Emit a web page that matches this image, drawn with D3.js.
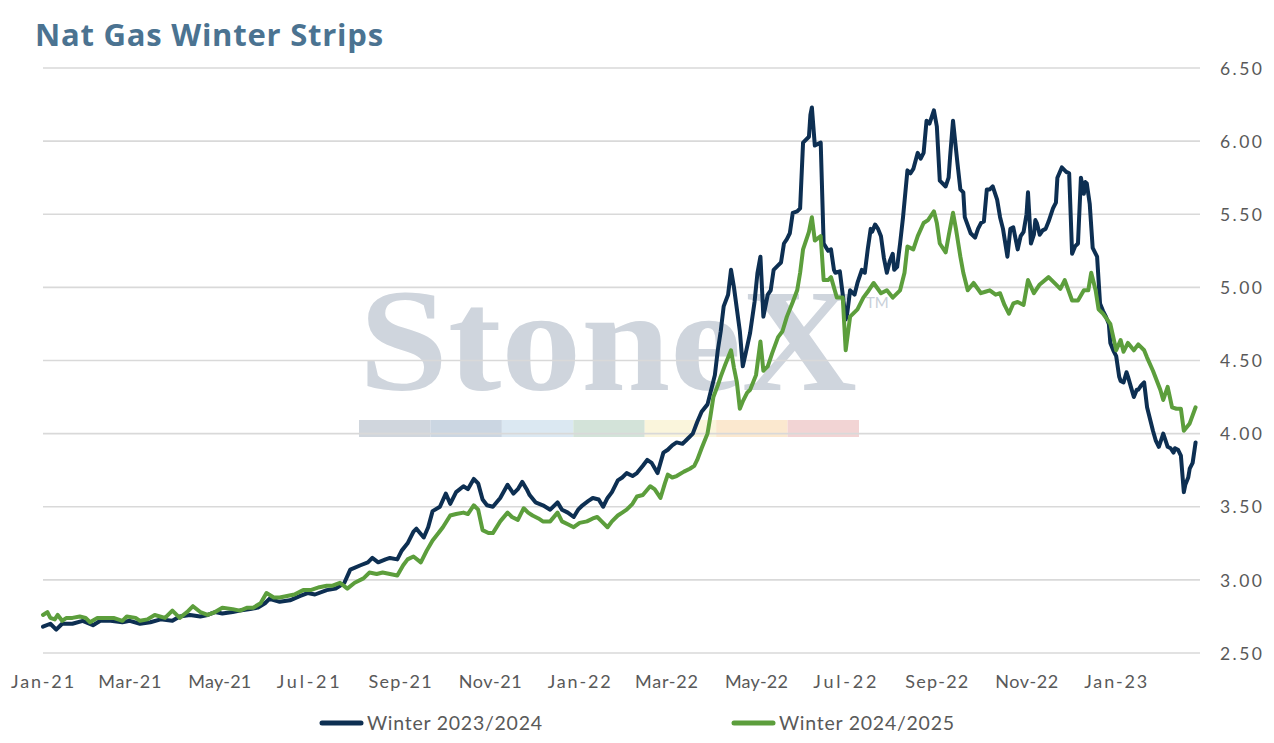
<!DOCTYPE html>
<html>
<head>
<meta charset="utf-8">
<script src="https://cdn.jsdelivr.net/npm/d3@7/dist/d3.min.js"></script>
<style>
  html, body { margin: 0; padding: 0; background: #ffffff; }
  svg { display: block; }
</style>
</head>
<body>
<svg id="chart" width="1274" height="743"></svg>
<script>
// ---------------- DATA ----------------
const chartTitle = "Nat Gas Winter Strips";
const seriesNames = ["Winter 2023/2024", "Winter 2024/2025"];
const startDate = new Date(2021, 0, 1);
const endDate = new Date(2023, 1, 27);
const yTicks = [2.5, 3.0, 3.5, 4.0, 4.5, 5.0, 5.5, 6.0, 6.5];

// [days since 1 Jan 2021, $/MMBtu]
const winter2324 = [
[0,2.68],[5,2.70],[9,2.66],[13,2.70],[20,2.70],[27,2.72],[34,2.69],[39,2.72],[46,2.72],[54,2.71],
[59,2.72],[66,2.70],[73,2.71],[80,2.73],[88,2.72],[93,2.75],[100,2.76],[107,2.75],[112,2.76],[117,2.78],
[122,2.77],[129,2.78],[134,2.79],[141,2.80],[146,2.81],[151,2.84],[154,2.87],[161,2.85],[168,2.86],[175,2.89],
[180,2.91],[185,2.90],[193,2.93],[199,2.94],[202,2.96],[205,2.98],[209,3.07],[216,3.10],[221,3.12],[224,3.15],
[228,3.12],[233,3.14],[236,3.15],[241,3.14],[244,3.20],[248,3.25],[252,3.33],[254,3.35],[259,3.29],[262,3.36],
[265,3.47],[270,3.50],[274,3.59],[277,3.52],[281,3.60],[286,3.64],[289,3.62],[293,3.69],[296,3.66],[299,3.55],
[302,3.51],[306,3.50],[311,3.56],[316,3.65],[320,3.59],[323,3.62],[326,3.67],[329,3.62],[331,3.58],[335,3.53],
[340,3.51],[345,3.48],[350,3.53],[353,3.48],[357,3.46],[361,3.43],[364,3.48],[367,3.51],[371,3.54],[374,3.56],
[378,3.55],[381,3.50],[384,3.56],[387,3.60],[391,3.68],[394,3.70],[397,3.73],[401,3.71],[404,3.73],[408,3.78],
[411,3.82],[414,3.80],[418,3.73],[422,3.87],[425,3.89],[428,3.92],[431,3.94],[435,3.93],[438,3.96],[442,4.00],
[445,4.08],[448,4.15],[452,4.20],[454,4.28],[457,4.40],[459,4.57],[461,4.70],[463,4.87],[466,4.95],[468,5.12],
[470,5.00],[472,4.85],[474,4.70],[476,4.46],[478,4.55],[481,4.69],[484,4.90],[486,5.10],[488,5.21],[490,4.80],
[493,4.95],[495,4.98],[497,5.12],[500,5.15],[502,5.17],[504,5.30],[506,5.33],[508,5.37],[510,5.51],[513,5.52],
[515,5.54],[517,5.99],[521,6.03],[522,6.18],[523,6.23],[525,5.97],[529,5.99],[531,5.30],[534,5.25],[536,5.26],
[538,5.12],[539,5.10],[542,5.11],[544,4.95],[546,4.78],[547,4.82],[549,4.98],[552,4.95],[554,5.03],[557,5.12],
[559,5.10],[561,5.26],[563,5.40],[564,5.38],[566,5.43],[568,5.40],[570,5.35],[572,5.20],[574,5.10],[576,5.18],
[578,5.23],[579,5.12],[581,5.14],[583,5.30],[585,5.48],[588,5.80],[590,5.78],[592,5.81],[595,5.92],[597,5.88],
[599,5.92],[601,6.14],[603,6.12],[606,6.21],[608,6.10],[610,5.73],[614,5.69],[616,5.75],[617,5.89],[619,6.14],
[622,5.85],[624,5.67],[626,5.65],[627,5.48],[631,5.37],[634,5.34],[636,5.40],[638,5.44],[640,5.45],[642,5.67],
[644,5.67],[646,5.69],[649,5.60],[651,5.48],[653,5.40],[656,5.21],[658,5.40],[660,5.41],[663,5.26],[665,5.35],
[667,5.38],[669,5.50],[670,5.65],[672,5.30],[674,5.36],[675,5.46],[676,5.44],[678,5.36],[680,5.39],[682,5.40],
[684,5.45],[687,5.54],[689,5.58],[690,5.75],[693,5.82],[696,5.79],[698,5.78],[700,5.23],[702,5.28],[704,5.30],
[706,5.75],[708,5.64],[709,5.72],[710,5.71],[712,5.57],[714,5.27],[717,5.21],[719,4.89],[721,4.84],[723,4.80],
[725,4.75],[726,4.62],[728,4.57],[730,4.53],[732,4.39],[733,4.36],[735,4.35],[737,4.42],[738,4.39],[740,4.32],
[742,4.25],[744,4.30],[745,4.30],[747,4.33],[749,4.35],[751,4.18],[753,4.10],[755,4.02],[757,3.95],[759,3.91],
[761,3.97],[762,4.00],[764,3.94],[765,3.91],[767,3.90],[769,3.87],[770,3.90],[772,3.89],[774,3.85],[776,3.60],
[777,3.65],[779,3.70],[780,3.76],[782,3.80],[784,3.94]
];

const winter2425 = [
[0,2.76],[3,2.78],[5,2.74],[8,2.73],[10,2.76],[13,2.72],[16,2.74],[20,2.74],[25,2.75],[29,2.74],
[32,2.71],[37,2.74],[42,2.74],[48,2.74],[54,2.72],[57,2.75],[63,2.74],[66,2.72],[71,2.73],[76,2.76],
[83,2.74],[88,2.79],[93,2.74],[98,2.78],[102,2.82],[107,2.78],[112,2.76],[117,2.78],[122,2.81],[129,2.80],
[134,2.79],[139,2.81],[143,2.81],[148,2.84],[152,2.91],[157,2.88],[161,2.88],[166,2.89],[171,2.90],[177,2.93],
[182,2.93],[188,2.95],[193,2.96],[197,2.96],[202,2.98],[207,2.94],[212,2.98],[218,3.01],[222,3.05],[227,3.04],
[231,3.05],[236,3.04],[241,3.03],[245,3.10],[248,3.14],[252,3.16],[257,3.12],[261,3.20],[265,3.27],[269,3.32],
[272,3.36],[277,3.44],[281,3.45],[286,3.46],[289,3.45],[293,3.51],[296,3.48],[299,3.34],[303,3.32],[306,3.32],
[311,3.40],[316,3.46],[319,3.43],[323,3.41],[327,3.49],[330,3.46],[333,3.44],[337,3.42],[340,3.40],[345,3.40],
[350,3.46],[353,3.40],[357,3.38],[361,3.36],[365,3.39],[370,3.40],[374,3.42],[377,3.43],[380,3.40],[384,3.36],
[387,3.40],[391,3.44],[394,3.46],[397,3.48],[401,3.52],[404,3.57],[408,3.58],[413,3.64],[416,3.62],[420,3.56],
[423,3.66],[425,3.72],[428,3.70],[431,3.71],[436,3.74],[440,3.76],[443,3.78],[445,3.82],[448,3.90],[452,4.00],
[454,4.12],[456,4.25],[459,4.33],[461,4.39],[464,4.47],[468,4.57],[470,4.45],[472,4.35],[474,4.17],[476,4.22],
[479,4.28],[481,4.30],[485,4.40],[488,4.63],[490,4.43],[493,4.46],[496,4.55],[500,4.66],[503,4.70],[506,4.80],
[510,4.90],[513,4.98],[515,5.10],[517,5.26],[521,5.38],[523,5.48],[525,5.32],[529,5.35],[531,5.05],[534,5.05],
[536,5.07],[540,4.93],[544,4.93],[546,4.57],[549,4.80],[554,4.85],[558,4.93],[561,4.97],[565,5.03],[570,4.96],
[574,4.98],[578,4.93],[583,4.98],[586,5.10],[588,5.28],[592,5.26],[595,5.35],[599,5.44],[602,5.46],[606,5.52],
[608,5.44],[610,5.30],[614,5.24],[616,5.35],[619,5.51],[621,5.40],[624,5.21],[626,5.10],[629,4.98],[633,5.03],
[638,4.96],[641,4.97],[644,4.98],[648,4.95],[651,4.96],[654,4.88],[657,4.82],[660,4.89],[663,4.90],[667,4.88],
[670,5.05],[674,4.96],[678,5.02],[684,5.07],[689,5.02],[692,4.99],[695,5.05],[700,4.91],[704,4.91],[708,4.98],
[711,4.98],[713,5.10],[716,4.98],[718,4.85],[721,4.82],[726,4.75],[730,4.57],[733,4.64],[735,4.56],[738,4.62],
[742,4.57],[745,4.61],[749,4.57],[751,4.52],[755,4.43],[760,4.30],[762,4.23],[765,4.32],[768,4.18],[771,4.17],
[774,4.17],[776,4.02],[780,4.07],[784,4.18]
];

const watermarkText = "StoneX";
const watermarkBarColors = ["#d0d6dd", "#cbd6e2", "#dbe8f2", "#d3e3d9", "#faf5dc", "#fbe8cf", "#f2d4d4"];

// ---------------- STYLE / LAYOUT ----------------
const colors = ["#0d2f52", "#5c9e3c"];
const FONT = "Lato, 'Open Sans', sans-serif";
const textGrey = "#595959";
const plot = { left: 43, right: 1200, top: 68, bottom: 653 };

const svg = d3.select("#chart");

// fit letter-spacing so text spans a target width
function fitSpacing(sel, target) {
  sel.each(function () {
    const n = this.textContent.length;
    const w = this.getComputedTextLength();
    if (n > 1) d3.select(this).attr("letter-spacing", ((target - w) / (n - 1)).toFixed(2));
  });
}

const x = d3.scaleTime().domain([startDate, endDate]).range([plot.left, plot.right]);
const y = d3.scaleLinear().domain([yTicks[0], yTicks[yTicks.length - 1]]).range([plot.bottom, plot.top]);
const toDate = d => d3.timeDay.offset(startDate, d);

// watermark
const wm = svg.append("g").attr("class", "watermark");
wm.append("text")
  .attr("x", 359).attr("y", 390)
  .attr("font-family", "'Liberation Serif', 'DejaVu Serif', serif")
  .attr("font-weight", 700)
  .attr("font-size", 146)
  .attr("fill", "#cfd5dd")
  .attr("textLength", 498).attr("lengthAdjust", "spacingAndGlyphs")
  .text(watermarkText);
wm.append("text")
  .attr("x", 866).attr("y", 308)
  .attr("font-family", FONT).attr("font-size", 15)
  .attr("fill", "#c8cfd8")
  .text("TM");
const barX = d3.scaleBand().domain(d3.range(watermarkBarColors.length)).range([359, 859]);
wm.selectAll("rect.wmbar").data(watermarkBarColors).join("rect")
  .attr("class", "wmbar")
  .attr("x", (d, i) => barX(i)).attr("y", 420)
  .attr("width", barX.bandwidth()).attr("height", 17)
  .attr("fill", d => d);

// grid lines
svg.append("g").selectAll("line").data(yTicks).join("line")
  .attr("x1", plot.left).attr("x2", plot.right)
  .attr("y1", d => y(d)).attr("y2", d => y(d))
  .attr("stroke", "#d9d9d9").attr("stroke-width", 1.6);

// y axis (right)
const yAxis = svg.append("g")
  .attr("transform", `translate(${plot.right},0)`)
  .call(d3.axisRight(y).tickValues(yTicks).tickFormat(d3.format(".2f")).tickSize(0).tickPadding(20));
yAxis.select(".domain").remove();
yAxis.selectAll("text")
  .attr("font-family", FONT).attr("font-size", 17.5).attr("fill", textGrey)
  .attr("dy", "0.35em");
fitSpacing(yAxis.selectAll("text"), 42);

// x axis
const xAxis = svg.append("g")
  .attr("transform", `translate(0,${plot.bottom})`)
  .call(d3.axisBottom(x)
    .ticks(d3.timeMonth.every(2))
    .tickFormat(d3.timeFormat("%b-%y"))
    .tickSize(0).tickPadding(22));
xAxis.select(".domain").remove();
xAxis.selectAll("text")
  .attr("font-family", FONT).attr("font-size", 18).attr("fill", textGrey);
fitSpacing(xAxis.selectAll("text"), 63);

// lines
const line = d3.line().x(d => x(toDate(d[0]))).y(d => y(d[1]));
const seriesData = [winter2324, winter2425];
svg.append("g").selectAll("path").data(seriesData).join("path")
  .attr("d", line)
  .attr("fill", "none")
  .attr("stroke", (d, i) => colors[i])
  .attr("stroke-width", 4)
  .attr("stroke-linejoin", "round")
  .attr("stroke-linecap", "round");

// title
const title = svg.append("text")
  .attr("x", 35).attr("y", 46)
  .attr("font-family", "'Open Sans', Lato, sans-serif").attr("font-weight", 700).attr("font-size", 31)
  .attr("fill", "#4b7391")
  .text(chartTitle);
fitSpacing(title, 348);

// legend
const legendX = [320, 732];
const lg = svg.append("g").selectAll("g").data(seriesNames).join("g")
  .attr("transform", (d, i) => `translate(${legendX[i]},723)`);
lg.append("line")
  .attr("x1", 2).attr("x2", 41).attr("y1", 0).attr("y2", 0)
  .attr("stroke", (d, i) => colors[i]).attr("stroke-width", 5).attr("stroke-linecap", "round");
const lgText = lg.append("text")
  .attr("x", 47).attr("y", 7)
  .attr("font-family", FONT).attr("font-size", 19.5).attr("fill", textGrey)
  .text(d => d);
fitSpacing(lgText, 175);
</script>
</body>
</html>
